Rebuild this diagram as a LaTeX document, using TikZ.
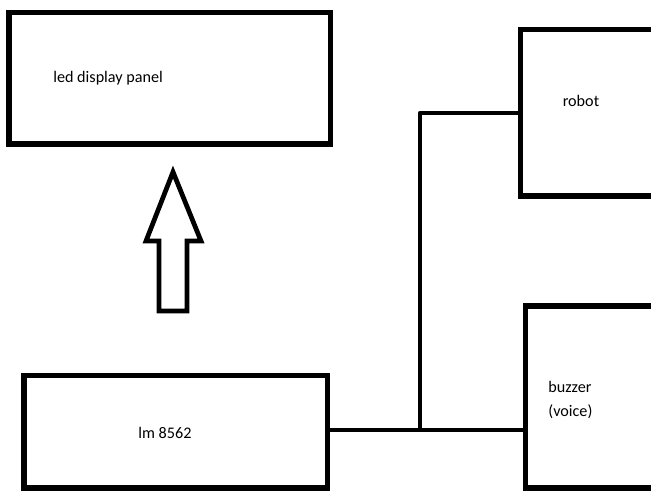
\documentclass[tikz,border=0pt]{standalone}
\usepackage{fontspec}
\setmainfont{Carlito}
\usetikzlibrary{positioning}
\tikzset{
    every node/.style={font=\fontsize{9.2pt}{13.7pt}\selectfont}
}

\begin{document}
\begin{tikzpicture}[x=0.02cm,y=-0.02cm,
                    block/.style={rectangle,draw,line width=3.1pt,inner sep=0pt},
                    wire/.style={draw,line width=2.3pt},
                    bigarrow/.style={draw,line width=2.7pt,line join=miter},
                    lbl/.style={inner sep=0pt}]
\useasboundingbox (0,0) rectangle (651,490);
\clip (0,0) rectangle (651,490);

% Blocks
\node[block,minimum width=6.43cm,minimum height=2.63cm] (led) at (169.75,78.25) {};
\node[block,minimum width=3.59cm,minimum height=3.33cm] (robot) at (610.25,112.75) {};
\node[block,minimum width=3.49cm,minimum height=3.64cm] (buzzer) at (612.75,397) {};
\node[block,minimum width=6.07cm,minimum height=2.25cm] (lm) at (175.75,431.75) {};

% Labels
\node[lbl,anchor=west] (ledtxt) at (53,78) {led display panel};
\node[lbl] (robottxt) at (581,101) {robot};
\node[lbl,anchor=west,align=left] (buzzertxt) at (548,400) {buzzer\\(voice)};
\node[lbl] (lmtxt) at (165,433) {lm 8562};

% Arrow up to the display
\path[bigarrow] (159,311) -- (159,241) -- (146,241) -- (173,172)
    -- (201,241) -- (187,241) -- (187,311) -- cycle;

% Wires
\coordinate (jn) at (420,430);
\path[wire] (lm.east |- jn) -- (jn) -- (buzzer.west |- jn);
\path[wire,line join=round] (jn) |- (robot.west);

\end{tikzpicture}
\end{document}
